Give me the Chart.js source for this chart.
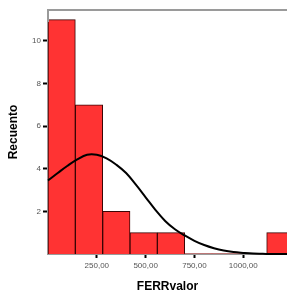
<!DOCTYPE html>
<html>
<head>
<meta charset="utf-8">
<script src="https://cdn.jsdelivr.net/npm/chart.js@4/dist/chart.umd.min.js"></script>
<style>
  html, body { margin: 0; padding: 0; background: #fff; overflow: hidden; }
  #wrap { width: 287px; height: 293px; }
</style>
</head>
<body>
<div id="wrap"><canvas id="hist" width="287" height="293"></canvas></div>
<script>
// histogram bins (width 140, starting at 0)
const binCenters = [70, 210, 350, 490, 630, 770, 910, 1050, 1190];
const counts = [11, 7, 2, 1, 1, 0, 0, 0, 1];

// normal curve
const curveX = [0, 50, 100, 150, 200, 250, 300, 350, 400, 450, 500, 550, 600, 650, 700, 750, 800, 850, 900, 950, 1000, 1050, 1100, 1150, 1200, 1250];
const curveY = [3.45, 3.8, 4.14, 4.44, 4.66, 4.66, 4.49, 4.19, 3.8, 3.25, 2.66, 2.07, 1.55, 1.16, 0.87, 0.62, 0.42, 0.27, 0.16, 0.09, 0.05, 0.02, 0.01, 0, 0, 0];

const xTicks = [250, 500, 750, 1000];
const yTicks = [2, 4, 6, 8, 10];

const frame = {
    id: 'frame',
    afterDraw(chart) {
        const { ctx, chartArea } = chart;
        ctx.save();
        ctx.strokeStyle = '#9a9a9a';
        ctx.lineWidth = 2;
        ctx.beginPath();
        ctx.moveTo(chartArea.left, chartArea.top + 12);
        ctx.lineTo(chartArea.left, chartArea.top);
        ctx.lineTo(chartArea.right + 2, chartArea.top);
        ctx.stroke();
        ctx.restore();
    }
};

new Chart(document.getElementById('hist'), {
    data: {
        datasets: [
            {
                type: 'line',
                data: curveX.map((x, i) => ({ x: x, y: curveY[i] })),
                borderColor: '#000',
                borderWidth: 2,
                pointRadius: 0,
                tension: 0.4,
                fill: false,
                clip: false,
                order: 0
            },
            {
                type: 'bar',
                data: binCenters.map((x, i) => ({ x: x, y: counts[i] })),
                backgroundColor: '#ff3333',
                borderColor: '#3a0505',
                borderWidth: ctx => (ctx.raw && ctx.raw.y > 0 ? 1 : 0),
                barPercentage: 1,
                categoryPercentage: 1,
                order: 1
            }
        ]
    },
    plugins: [frame],
    options: {
        responsive: false,
        animation: false,
        layout: { padding: { top: 10, right: 0, left: 0, bottom: 0 } },
        plugins: {
            legend: { display: false },
            tooltip: { enabled: false }
        },
        scales: {
            x: {
                type: 'linear',
                min: 0,
                max: 1224,
                offset: false,
                afterFit: s => { s.height = 39; },
                afterBuildTicks: s => { s.ticks = xTicks.map(v => ({ value: v })); },
                border: { color: '#9a9a9a', width: 2 },
                grid: { offset: false, drawOnChartArea: false, tickColor: '#000', tickWidth: 2, tickLength: 4 },
                ticks: {
                    padding: 3,
                    maxRotation: 0,
                    color: '#555',
                    font: { family: 'Arial, "Liberation Sans", sans-serif', size: 8 },
                    callback: v => v.toFixed(2).replace('.', ',')
                },
                title: {
                    display: true,
                    text: 'FERRvalor',
                    color: '#000',
                    padding: { top: 0, bottom: 0 },
                    font: { family: 'Arial, "Liberation Sans", sans-serif', size: 12, weight: 'bold', lineHeight: 1 }
                }
            },
            y: {
                min: 0,
                max: 11.45,
                afterFit: s => { s.width = 48; },
                afterBuildTicks: s => { s.ticks = yTicks.map(v => ({ value: v })); },
                border: { color: '#9a9a9a', width: 2 },
                grid: { drawOnChartArea: false, tickColor: '#000', tickWidth: 2, tickLength: 5 },
                ticks: {
                    padding: 2,
                    color: '#555',
                    font: { family: 'Arial, "Liberation Sans", sans-serif', size: 8 },
                    callback: v => String(v)
                },
                title: {
                    display: true,
                    text: 'Recuento',
                    color: '#000',
                    padding: { top: 8, bottom: 0 },
                    font: { family: 'Arial, "Liberation Sans", sans-serif', size: 12, weight: 'bold', lineHeight: 1 }
                }
            }
        }
    }
});
</script>
</body>
</html>
